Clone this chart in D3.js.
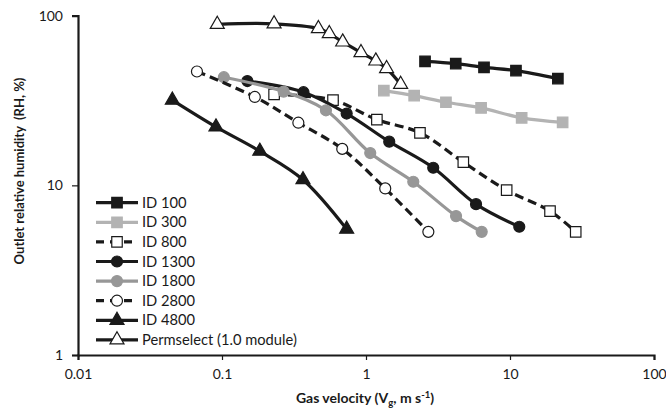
<!DOCTYPE html>
<html>
<head>
<meta charset="utf-8">
<script src="https://cdn.jsdelivr.net/npm/d3@7"></script>
<style>
  body { margin: 0; background: #fff; }
  svg text { font-family: Lato, "Open Sans", sans-serif; fill: #1a1a1a; }
</style>
</head>
<body>
<svg id="chart" width="666" height="412"></svg>
<script>
// gas velocity (m/s) and outlet RH (%) per series
const id100X = [2.57, 4.2, 6.6, 11, 21.5];
const id100Y = [53.8, 52.2, 49.6, 47.5, 42.6];
const id300X = [1.33, 2.16, 3.59, 6.3, 12.05, 23.2];
const id300Y = [36.2, 33.8, 30.9, 28.6, 25.0, 23.5];
const id800X = [0.23, 0.59, 1.19, 2.37, 4.74, 9.48, 18.96, 28.6];
const id800Y = [34.4, 31.8, 24.4, 20.4, 13.7, 9.37, 7.05, 5.32];
const id1300X = [0.15, 0.368, 0.734, 1.45, 2.93, 5.81, 11.6];
const id1300Y = [41.2, 35.4, 26.5, 18.1, 12.7, 7.75, 5.7];
const id1800X = [0.103, 0.268, 0.527, 1.07, 2.13, 4.22, 6.36];
const id1800Y = [43.4, 35.7, 27.7, 15.5, 10.5, 6.59, 5.32];
const id2800X = [0.067, 0.169, 0.339, 0.684, 1.36, 2.71];
const id2800Y = [46.9, 33.2, 23.4, 16.4, 9.59, 5.32];
const id4800X = [0.0452, 0.0908, 0.183, 0.365, 0.734];
const id4800Y = [31.8, 22.1, 15.9, 10.8, 5.52];
const permX = [0.0927, 0.23, 0.467, 0.556, 0.689, 0.923, 1.17, 1.39, 1.74];
const permY = [89.0, 89.6, 84.0, 78.5, 70.0, 60.6, 54.1, 48.8, 39.4];

const xTicks = [0.01, 0.1, 1, 10, 100];
const yTicks = [1, 10, 100];

const series = [
  { name: "ID 100", xs: id100X, ys: id100Y, color: "#1a1a1a", marker: "square", fill: "#1a1a1a", dash: null },
  { name: "ID 300", xs: id300X, ys: id300Y, color: "#b3b3b3", marker: "square", fill: "#b3b3b3", dash: null },
  { name: "ID 800", xs: id800X, ys: id800Y, color: "#1a1a1a", marker: "square", fill: "#fff", dash: "9,5" },
  { name: "ID 1300", xs: id1300X, ys: id1300Y, color: "#1a1a1a", marker: "circle", fill: "#1a1a1a", dash: null },
  { name: "ID 1800", xs: id1800X, ys: id1800Y, color: "#979797", marker: "circle", fill: "#979797", dash: null },
  { name: "ID 2800", xs: id2800X, ys: id2800Y, color: "#1a1a1a", marker: "circle", fill: "#fff", dash: "9,5" },
  { name: "ID 4800", xs: id4800X, ys: id4800Y, color: "#1a1a1a", marker: "triangle", fill: "#1a1a1a", dash: null },
  { name: "Permselect (1.0 module)", xs: permX, ys: permY, color: "#1a1a1a", marker: "triangle", fill: "#fff", dash: null }
];

const svg = d3.select("#chart");

const x = d3.scaleLog().domain([0.01, 100]).range([78, 654]);
const y = d3.scaleLog().domain([1, 100]).range([355, 15.7]);

const symbols = {
  square: d3.symbol().type(d3.symbolSquare).size(110),
  circle: d3.symbol().type(d3.symbolCircle).size(95),
  triangle: d3.symbol().type(d3.symbolTriangle).size(85)
};

// axes
const xAxis = svg.append("g")
  .attr("transform", "translate(0,355)")
  .call(d3.axisBottom(x).tickValues(xTicks).tickFormat(d3.format("~g")).tickSize(5).tickPadding(9));
const yAxis = svg.append("g")
  .attr("transform", "translate(78,0)")
  .call(d3.axisLeft(y).tickValues(yTicks).tickFormat(d3.format("~g")).tickSize(6).tickPadding(9));

[xAxis, yAxis].forEach((g) => {
  g.select(".domain").attr("stroke", "#1a1a1a").attr("stroke-width", 2.2);
  g.selectAll(".tick line").attr("stroke", "#1a1a1a").attr("stroke-width", 1.2);
  g.selectAll(".tick text").style("font-size", "14px").attr("fill", "#1a1a1a");
});

// axis titles (double space kept as in the original)
svg.append("text")
  .attr("transform", "translate(24,171) rotate(-90)")
  .attr("text-anchor", "middle")
  .style("font-size", "13px")
  .style("font-weight", "bold")
  .style("white-space", "pre")
  .text("Outlet relative humidity  (RH, %)");

const xt = svg.append("text")
  .attr("x", 365)
  .attr("y", 403)
  .attr("text-anchor", "middle")
  .style("font-size", "14px")
  .style("font-weight", "bold");
xt.append("tspan").text("Gas velocity (V");
xt.append("tspan").attr("dy", 3).style("font-size", "9.5px").text("g");
xt.append("tspan").attr("dy", -3).text(", m s");
xt.append("tspan").attr("dy", -5).style("font-size", "9.5px").text("-1");
xt.append("tspan").attr("dy", 5).text(")");

// series
const line = d3.line()
  .x((d) => x(d[0]))
  .y((d) => y(d[1]))
  .curve(d3.curveCatmullRom.alpha(0.5));

series.forEach((s) => {
  const pts = s.xs.map((v, i) => [v, s.ys[i]]);
  const g = svg.append("g");
  g.append("path")
    .attr("d", line(pts))
    .attr("fill", "none")
    .attr("stroke", s.color)
    .attr("stroke-width", 3.2)
    .attr("stroke-dasharray", s.dash);
  g.selectAll("path.mk")
    .data(pts)
    .enter()
    .append("path")
    .attr("class", "mk")
    .attr("d", symbols[s.marker])
    .attr("transform", (d) => `translate(${x(d[0])},${y(d[1])})`)
    .attr("fill", s.fill)
    .attr("stroke", s.fill === "#fff" ? "#1a1a1a" : s.fill)
    .attr("stroke-width", 1.2);
});

// legend
const legend = svg.append("g");
const item = legend.selectAll("g")
  .data(series)
  .enter()
  .append("g")
  .attr("transform", (d, i) => `translate(0,${202.7 + i * 19.6})`);

item.append("line")
  .attr("x1", 96).attr("x2", 138)
  .attr("stroke", (d) => d.color)
  .attr("stroke-width", 3.2)
  .attr("stroke-dasharray", (d) => (d.dash ? "8,6" : null));

item.append("path")
  .attr("d", (d) => symbols[d.marker]())
  .attr("transform", "translate(117,0)")
  .attr("fill", (d) => d.fill)
  .attr("stroke", (d) => (d.fill === "#fff" ? "#1a1a1a" : d.fill))
  .attr("stroke-width", 1.2);

item.append("text")
  .attr("x", 142)
  .attr("dy", "0.35em")
  .style("font-size", "14.7px")
  .text((d) => d.name);
</script>
</body>
</html>
